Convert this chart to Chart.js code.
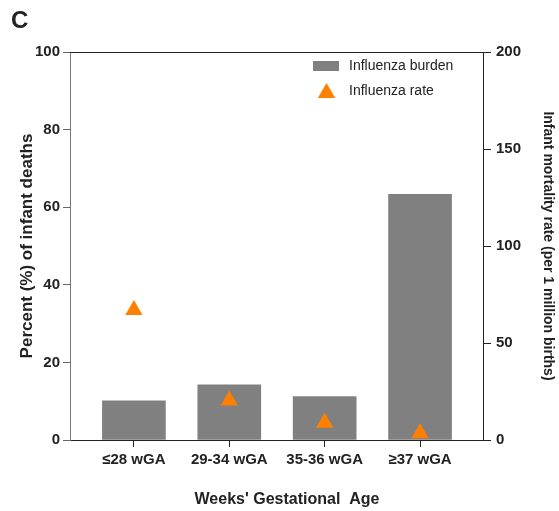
<!DOCTYPE html>
<html>
<head>
<meta charset="utf-8">
<script src="https://cdn.jsdelivr.net/npm/chart.js@4"></script>
<style>
  body { margin: 0; background: #fff; }
  #wrap { width: 559px; height: 511px; position: relative; }
</style>
</head>
<body>
<div id="wrap"><canvas id="myChart"></canvas></div>
<script>
const ctx = document.getElementById("myChart");

const categories = ["≤28 wGA", "29-34 wGA", "35-36 wGA", "≥37 wGA"];
const burden = [10.1, 14.2, 11.2, 63.3];   // percent of infant deaths
const rate = [67, 20.3, 8.9, 3.5];         // per 1 million births
const leftTicks = [0, 20, 40, 60, 80, 100];
const rightTicks = [0, 50, 100, 150, 200];

const fontFamily = "'Liberation Sans', Arial, sans-serif";
const barColor = "#808080";
const triColor = "#ff7f00";

// frame line on top, legend inside the plot, x title and the panel letter
const extras = {
    id: "extras",
    afterDraw(chart) {
        const c = chart.ctx;
        const a = chart.chartArea;
        c.save();
        c.strokeStyle = "#222";
        c.lineWidth = 1;
        c.beginPath();
        c.moveTo(a.left, a.top + 0.5);
        c.lineTo(a.right, a.top + 0.5);
        c.stroke();

        c.fillStyle = barColor;
        c.fillRect(313, 61, 26, 10);
        c.fillStyle = triColor;
        Chart.helpers.drawPoint(c, { pointStyle: "triangle", radius: 10, rotation: 0, borderWidth: 0 }, 326.5, 93);

        c.fillStyle = "#222";
        c.font = "14px " + fontFamily;
        c.textBaseline = "middle";
        c.textAlign = "left";
        c.fillText(chart.data.datasets[0].label, 349, 66.5);
        c.fillText(chart.data.datasets[1].label, 349, 91.5);

        c.font = "bold 16px " + fontFamily;
        c.textAlign = "center";
        c.fillText("Weeks' Gestational  Age", 287, 500);

        c.font = "bold 24px " + fontFamily;
        c.textAlign = "left";
        c.textBaseline = "alphabetic";
        c.fillText("C", 11, 28);
        c.restore();
    }
};

const data = {
    datasets: [
        {
            type: "bar",
            label: "Influenza burden",
            data: burden.map((v, i) => ({ x: i, y: v })),
            backgroundColor: barColor,
            barThickness: 63,
            yAxisID: "y",
            order: 1,
        },
        {
            type: "scatter",
            label: "Influenza rate",
            data: rate.map((v, i) => ({ x: i, y: v })),
            backgroundColor: triColor,
            borderWidth: 0,
            pointStyle: "triangle",
            pointRadius: 10,
            pointHoverRadius: 10,
            yAxisID: "y2",
            order: 0,
        },
    ],
};

const tickFont = { family: fontFamily, size: 15, weight: "bold" };

const config = {
    data: data,
    plugins: [extras],
    options: {
        responsive: true,
        maintainAspectRatio: false,
        animation: false,
        layout: { padding: { top: 52, left: 0, right: 0, bottom: 0 } },
        plugins: {
            legend: { display: false },
            tooltip: { enabled: false },
        },
        scales: {
            x: {
                type: "linear",
                offset: false,
                min: -0.67,
                max: 3.66,
                afterBuildTicks: (scale) => {
                    scale.ticks = categories.map((c, i) => ({ value: i }));
                },
                afterFit: (scale) => { scale.height = 71; },
                ticks: {
                    callback: (v) => categories[v],
                    color: "#222",
                    font: tickFont,
                    padding: 4,
                    maxRotation: 0,
                    autoSkip: false,
                },
                grid: { offset: false, drawOnChartArea: false, tickLength: 7, color: "#222" },
                border: { color: "#222", width: 1 },
            },
            y: {
                position: "left",
                min: 0,
                max: 100,
                afterBuildTicks: (scale) => {
                    scale.ticks = leftTicks.map((v) => ({ value: v }));
                },
                afterFit: (scale) => { scale.width = 70; },
                ticks: { color: "#222", font: tickFont, padding: 3 },
                grid: { drawOnChartArea: false, tickLength: 7, color: "#666" },
                border: { color: "#777", width: 1 },
                title: {
                    display: true,
                    text: "Percent (%) of infant deaths",
                    color: "#222",
                    font: { family: fontFamily, size: 17, weight: "bold" },
                    padding: { top: 17, bottom: 0 },
                },
            },
            y2: {
                position: "right",
                min: 0,
                max: 200,
                afterBuildTicks: (scale) => {
                    scale.ticks = rightTicks.map((v) => ({ value: v }));
                },
                afterFit: (scale) => { scale.width = 76; },
                ticks: { color: "#222", font: tickFont, padding: 5 },
                grid: { drawOnChartArea: false, tickLength: 8, color: "#222" },
                border: { color: "#222", width: 1 },
                title: {
                    display: true,
                    text: "Infant mortality rate (per 1 million births)",
                    color: "#222",
                    font: { family: fontFamily, size: 14, weight: "bold" },
                    padding: { top: 3, bottom: 0 },
                },
            },
        },
    },
};

const myChart = new Chart(ctx, config);
</script>
</body>
</html>
